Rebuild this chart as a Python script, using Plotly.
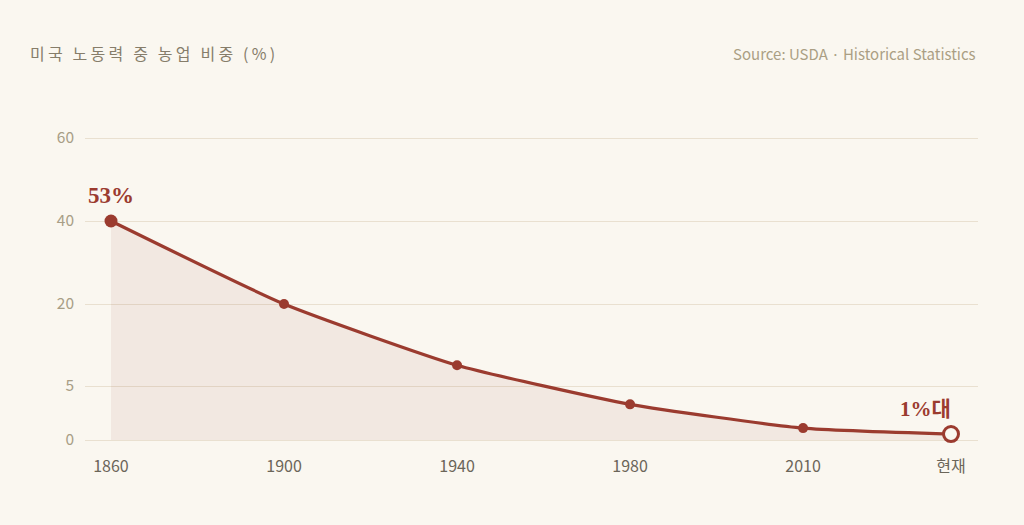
import numpy as np
import plotly.graph_objects as go

# Data
categories = ["1860", "1900", "1940", "1980", "2010", "현재"]
x_positions = [0, 1, 2, 3, 4, 4.855]
values = [40, 20, 8.8, 3.3, 1.1, 0.55]   # read on the labeled (broken) axis
tick_vals = [0, 5, 20, 40, 60]
tick_labels = ["0", "5", "20", "40", "60"]
tick_screen = [0, 54, 136, 219, 302]      # axis's piecewise spacing
title_text = "미국 노동력 중 농업 비중 (%)"

def scale(v):
    return np.interp(v, tick_vals, tick_screen)

def spaced(s, sp="\u2009"):
    return sp.join(list(s))

y = scale(np.array(values))
line_col = "#9b3b2f"
bg = "#faf7f0"

fig = go.Figure()
fig.add_trace(go.Scatter(
    x=x_positions, y=y, mode="lines", fill="tozeroy",
    fillcolor="rgba(155,59,47,0.08)",
    line=dict(color=line_col, width=3.2, shape="spline", smoothing=0.5),
    hoverinfo="skip", showlegend=False))
fig.add_trace(go.Scatter(
    x=x_positions[1:5], y=y[1:5], mode="markers",
    marker=dict(color=line_col, size=10), showlegend=False))
fig.add_trace(go.Scatter(
    x=x_positions[:1], y=y[:1], mode="markers",
    marker=dict(color=line_col, size=13), showlegend=False))
fig.add_trace(go.Scatter(
    x=x_positions[-1:], y=y[-1:], mode="markers",
    marker=dict(color=bg, size=15, line=dict(color=line_col, width=3)),
    showlegend=False))

fig.add_annotation(x=x_positions[0], y=y[0], text="<b>53%</b>", showarrow=False,
                   yshift=26, xanchor="center",
                   font=dict(family="Liberation Serif, Noto Sans CJK KR", size=23, color=line_col))
fig.add_annotation(x=x_positions[-1], y=y[-1], text="<b>1%대</b>", showarrow=False,
                   yshift=25, xanchor="right", xshift=2,
                   font=dict(family="Liberation Serif, Noto Sans CJK KR", size=21, color=line_col))

fig.add_annotation(xref="paper", yref="paper", x=-0.064, y=1.0, yshift=47,
                   text=spaced(title_text), showarrow=False,
                   xanchor="left", yanchor="middle",
                   font=dict(family="Noto Sans CJK KR", size=16, color="#867d6a"))
fig.add_annotation(xref="paper", yref="paper", x=1.0, y=1.0, yshift=47,
                   text="Source: USDA · Historical Statistics", showarrow=False,
                   xanchor="right", yanchor="middle",
                   font=dict(family="Noto Sans CJK KR", size=15, color="#ab9f84"))

fig.update_layout(
    width=1024, height=525,
    paper_bgcolor=bg, plot_bgcolor=bg,
    margin=dict(l=85, r=46, t=100, b=75),
    showlegend=False,
    xaxis=dict(range=[-26/173, 4.855 + 27/173], tickvals=x_positions, ticktext=categories,
               showgrid=False, zeroline=False, showline=False,
               tickfont=dict(family="Noto Sans CJK KR", size=16, color="#6b6559"),
               ticks="", ticklabelstandoff=5),
    yaxis=dict(range=[-10, 340], tickvals=tick_screen, ticktext=tick_labels,
               showgrid=True, gridcolor="#e9e0d0", gridwidth=1, zeroline=False,
               tickfont=dict(family="Noto Sans CJK KR", size=15.5, color="#a89e86"),
               ticks="", ticklabelstandoff=10),
)
fig.write_html("out.html")
